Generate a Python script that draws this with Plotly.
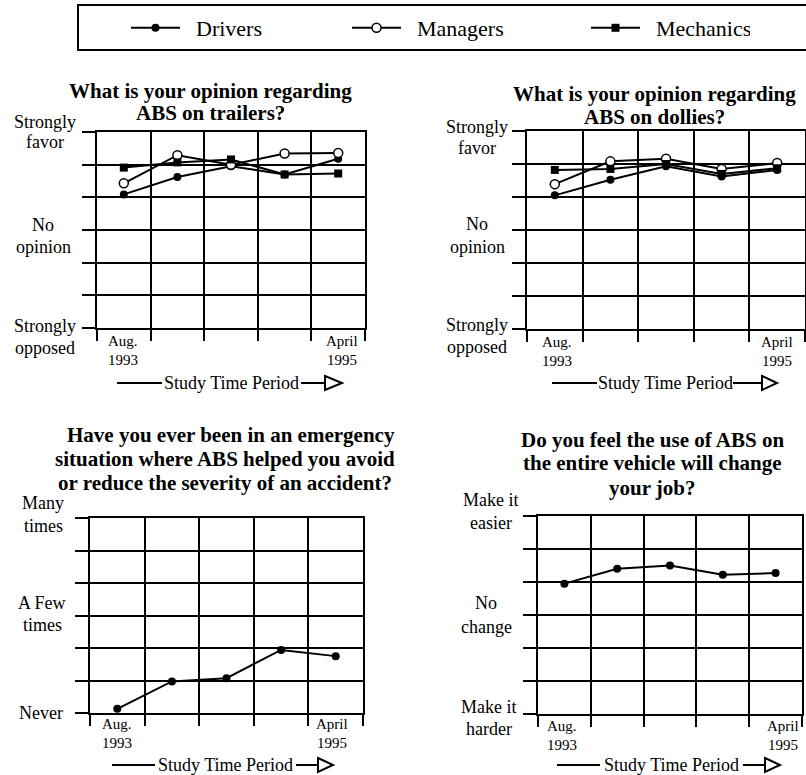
import plotly.graph_objects as go

W, H = 806, 775
SERIF = 'Liberation Serif, Times New Roman, serif'

# five survey waves, Aug. 1993 .. April 1995
periods = [0, 1, 2, 3, 4]

# scale 0..6 (0 = strongly opposed / never / harder, 6 = strongly favor / many / easier)
trailers_drivers = [4.09, 4.62, 4.95, 4.70, 5.18]
trailers_managers = [4.43, 5.29, 5.00, 5.34, 5.36]
trailers_mechanics = [4.91, 5.07, 5.16, 4.70, 4.73]

dollies_drivers = [4.05, 4.52, 4.93, 4.62, 4.82]
dollies_managers = [4.39, 5.08, 5.16, 4.85, 5.03]
dollies_mechanics = [4.82, 4.85, 5.00, 4.70, 4.87]

emergency_drivers = [0.13, 0.97, 1.07, 1.94, 1.75]
job_drivers = [3.95, 4.40, 4.50, 4.22, 4.27]

groups = ['Drivers', 'Managers', 'Mechanics']
x_start_label = ['Aug.', '1993']
x_end_label = ['April', '1995']
x_title = 'Study Time Period'


def px(x):
    return x / W


def py(y):
    return 1 - y / H


MARKERS = {
    'Drivers': dict(symbol='circle', size=8, color='black'),
    'Managers': dict(symbol='circle', size=9, color='white', line=dict(color='black', width=1.5)),
    'Mechanics': dict(symbol='square', size=8, color='black'),
}
# legend entry widths (px) so the three entries spread across the frame
LEGEND_W = {'Drivers': 157, 'Managers': 175, 'Mechanics': 100}

fig = go.Figure()

panels = [
    # (axis suffix, series dict, x-range px, y-range px)
    ('', {'Drivers': trailers_drivers, 'Managers': trailers_managers, 'Mechanics': trailers_mechanics},
     (97, 365), (132, 328)),
    ('2', {'Drivers': dollies_drivers, 'Managers': dollies_managers, 'Mechanics': dollies_mechanics},
     (527, 805), (131, 329)),
    ('3', {'Drivers': emergency_drivers}, (90, 363), (518, 713)),
    ('4', {'Drivers': job_drivers}, (538, 802), (516, 714)),
]

axis_common = dict(showticklabels=False, ticks='outside', tickwidth=2, tickcolor='black',
                   showgrid=True, gridcolor='black', gridwidth=2, zeroline=False,
                   showline=True, linecolor='black', linewidth=2, mirror=True, fixedrange=True)

layout_axes = {}
for i, (sfx, series, (x0, x1), (y0, y1)) in enumerate(panels):
    layout_axes['xaxis' + sfx] = dict(domain=[px(x0), px(x1)], range=[-0.5, 4.5],
                                      tickvals=[-0.5, 0.5, 1.5, 2.5, 3.5, 4.5], ticklen=11,
                                      anchor='y' + sfx, **axis_common)
    layout_axes['yaxis' + sfx] = dict(domain=[py(y1), py(y0)], range=[0, 6],
                                      tickvals=list(range(7)), ticklen=13,
                                      anchor='x' + sfx, **axis_common)
    for name, vals in series.items():
        fig.add_trace(go.Scatter(
            x=periods, y=vals,
            name='\u00a0\u00a0' + name,  # small gap between symbol and text, as in the print
            mode='lines+markers',
            line=dict(color='black', width=2),
            marker=MARKERS[name],
            xaxis='x' + sfx, yaxis='y' + sfx,
            legendgroup=name, showlegend=(i == 0),
            legendwidth=LEGEND_W[name],
        ))

fig.update_layout(**layout_axes)


def label(text, x, y, size, bold=False):
    fig.add_annotation(text=f'<b>{text}</b>' if bold else text,
                       x=px(x), y=py(y), xref='paper', yref='paper',
                       showarrow=False, xanchor='center', yanchor='middle',
                       font=dict(family=SERIF, size=size, color='black'))


# titles
titles = [
    [('What is your opinion regarding', 210, 91), ('ABS on trailers?', 210, 113)],
    [('What is your opinion regarding', 654, 94), ('ABS on dollies?', 654, 117)],
    [('Have you ever been in an emergency', 231, 435), ('situation where ABS helped you avoid', 225, 459),
     ('or reduce the severity of an accident?', 225, 483)],
    [('Do you feel the use of ABS on', 652, 440), ('the entire vehicle will change', 652, 463),
     ('your job?', 652, 488)],
]
for t in titles:
    for text, x, y in t:
        label(text, x, y, 21, bold=True)

# category labels on the left of each grid
cat_labels = [
    ('Strongly', 45, 122), ('favor', 45, 142), ('No', 43, 225), ('opinion', 43, 247),
    ('Strongly', 45, 326), ('opposed', 45, 348),
    ('Strongly', 477, 127), ('favor', 477, 148), ('No', 477, 224), ('opinion', 477, 247),
    ('Strongly', 477, 325), ('opposed', 477, 347),
    ('Many', 43, 503), ('times', 43, 526), ('A Few', 42, 603), ('times', 42, 625), ('Never', 41, 713),
    ('Make it', 491, 500), ('easier', 491, 523), ('No', 486, 603), ('change', 486, 627),
    ('Make it', 489, 707), ('harder', 489, 729),
]
for text, x, y in cat_labels:
    label(text, x, y, 18)

# start / end of study period under each grid
ends = [((123, 341), (342, 341)), ((557, 342), (777, 342)),
        ((117, 724), (332, 724)), ((562, 726), (783, 726))]
for (sx, sy), (ex, ey) in ends:
    label(x_start_label[0], sx, sy, 15)
    label(x_start_label[1], sx, sy + 19, 15)
    label(x_end_label[0], ex, ey, 15)
    label(x_end_label[1], ex, ey + 19, 15)

# "Study Time Period" arrows: y, left line, text centre, right line start, triangle start, tip
arrows = [(383, 117, 162, 231, 301, 325, 342), (383, 552, 597, 665, 733, 762, 777),
          (765, 112, 155, 225, 296, 318, 333), (765, 557, 600, 671, 743, 765, 780)]
for y, l0, l1, tc, r0, t0, t1 in arrows:
    label(x_title, tc, y, 18)
    fig.add_shape(type='line', xref='paper', yref='paper', x0=px(l0), x1=px(l1), y0=py(y), y1=py(y),
                  line=dict(color='black', width=2))
    fig.add_shape(type='line', xref='paper', yref='paper', x0=px(r0), x1=px(t0), y0=py(y), y1=py(y),
                  line=dict(color='black', width=2))
    fig.add_shape(type='path', xref='paper', yref='paper',
                  path=f'M {px(t0)} {py(y - 7)} L {px(t1)} {py(y)} L {px(t0)} {py(y + 7)} Z',
                  fillcolor='white', line=dict(color='black', width=2))

# legend frame
fig.add_shape(type='rect', xref='paper', yref='paper', x0=px(78), x1=px(830), y0=py(50), y1=py(5),
              line=dict(color='black', width=2), fillcolor='rgba(0,0,0,0)')

fig.update_layout(
    width=W, height=H,
    margin=dict(l=0, r=0, t=0, b=0, autoexpand=False),
    paper_bgcolor='white', plot_bgcolor='white',
    showlegend=True,
    legend=dict(orientation='h', x=px(126), y=py(28), xanchor='left', yanchor='middle',
                font=dict(family=SERIF, size=22, color='black'),
                bgcolor='rgba(0,0,0,0)', borderwidth=0,
                itemwidth=49, traceorder='normal'),
    font=dict(family=SERIF, color='black'),
)

# page body has a default 8px margin; drop it so the figure sits at the window origin
fig.write_html('out.html', config={'displayModeBar': False},
               post_script="document.body.style.margin='0';")
